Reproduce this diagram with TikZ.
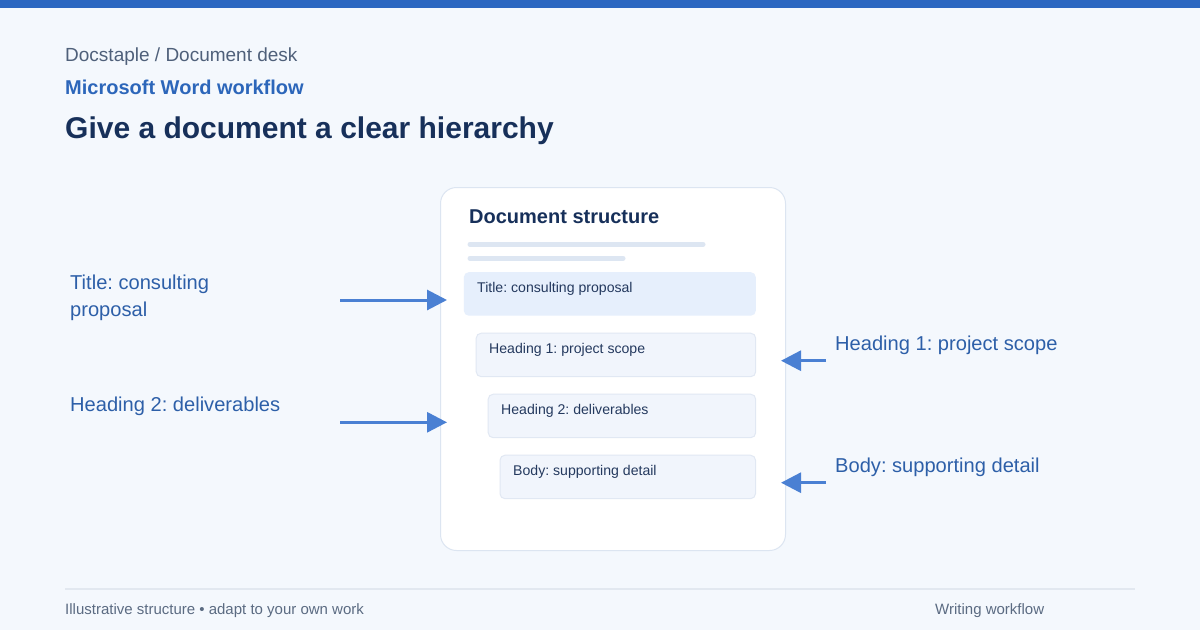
\documentclass[tikz,border=0pt]{standalone}
\usepackage{fontspec}
\setmainfont{Liberation Sans}
\frenchspacing
\usetikzlibrary{arrows.meta}
\definecolor{bgc}{HTML}{F4F8FD}
\definecolor{topbar}{HTML}{2B67C1}
\definecolor{navy}{HTML}{17305A}
\definecolor{subblue}{HTML}{2C66BA}
\definecolor{crumb}{HTML}{4F607A}
\definecolor{lblue}{HTML}{2D5FA8}
\definecolor{arrc}{HTML}{4A80D3}
\definecolor{cardline}{HTML}{DCE5F1}
\definecolor{boxone}{HTML}{E6EFFC}
\definecolor{boxfill}{HTML}{F1F5FC}
\definecolor{boxline}{HTML}{E1E8F3}
\definecolor{barc}{HTML}{DDE6F2}
\definecolor{footline}{HTML}{E2E8F0}
\definecolor{foottext}{HTML}{5B6B82}
\definecolor{boxtextc}{HTML}{24395E}
\tikzset{
  txt/.style={inner sep=0pt, anchor=base west},
  lbl/.style={txt, text=lblue, font=\fontsize{20.1}{24}\selectfont},
  boxtxt/.style={txt, text=boxtextc, font=\fontsize{14.1}{17}\selectfont},
  hbox/.style={draw=boxline, fill=boxfill, line width=1pt, rounded corners=5pt, anchor=north west, inner sep=0pt},
  arr/.style={draw=arrc, line width=3pt, -{Triangle[length=20pt,width=20pt]}},
  bar/.style={draw=barc, line width=5pt, line cap=round}
}
\begin{document}
\begin{tikzpicture}[x=1pt,y=-1pt]
\useasboundingbox (0,0) rectangle (1200,630);
\fill[bgc] (0,0) rectangle (1200,630);
\fill[topbar] (0,0) rectangle (1200,7.5);
% header
\node[txt, text=crumb, font=\fontsize{19}{22}\selectfont] (crumb) at (65,61) {Docstaple / Document desk};
\node[txt, text=subblue, font=\bfseries\fontsize{20}{24}\selectfont] (sub) at (65,94.3) {Microsoft Word workflow};
\node[txt, text=navy, font=\bfseries\fontsize{30}{34}\selectfont] (title) at (65,138.3) {Give a document a clear hierarchy};
% card
\node[draw=cardline, fill=white, line width=1pt, rounded corners=16pt, anchor=north west, minimum width=345pt, minimum height=363pt, inner sep=0pt] (card) at (440,187) {};
\node[txt, text=navy, font=\bfseries\fontsize{20}{24}\selectfont] (cardtitle) at (469,223.3) {Document structure};
\coordinate (l1a) at (470,244.3); \coordinate (l1b) at (703,244.3);
\coordinate (l2a) at (470,258.3); \coordinate (l2b) at (623,258.3);
\draw[bar] (l1a) -- (l1b);
\draw[bar] (l2a) -- (l2b);
% boxes
\node[hbox, draw=none, fill=boxone, minimum width=292pt, minimum height=43.5pt] (b1) at (463.3,271.7) {};
\node[hbox, minimum width=279.5pt, minimum height=43.5pt] (b2) at (475.7,332.7) {};
\node[hbox, minimum width=267.5pt, minimum height=43.5pt] (b3) at (487.7,393.7) {};
\node[hbox, minimum width=255.5pt, minimum height=43.5pt] (b4) at (499.5,454.7) {};
\node[boxtxt] (t1) at (477,292.7) {Title: consulting proposal};
\node[boxtxt] (t2) at (489,353.5) {Heading 1: project scope};
\node[boxtxt] (t3) at (501,414.3) {Heading 2: deliverables};
\node[boxtxt] (t4) at (513,475.3) {Body: supporting detail};
% labels
\node[lbl] (lab1a) at (70,289.5) {Title: consulting};
\node[lbl] (lab1b) at (70,316.5) {proposal};
\node[lbl] (lab3) at (70,411.5) {Heading 2: deliverables};
\node[lbl] (lab2) at (835,350.5) {Heading 1: project scope};
\node[lbl] (lab4) at (835,472.5) {Body: supporting detail};
% arrows
\coordinate (a1s) at (340,300); \coordinate (a1e) at (447,300);
\coordinate (a3s) at (340,422.3); \coordinate (a3e) at (447,422.3);
\coordinate (a2s) at (826,360.7); \coordinate (a2e) at (781,360.7);
\coordinate (a4s) at (826,482.7); \coordinate (a4e) at (781,482.7);
\draw[arr] (a1s) -- (a1e);
\draw[arr] (a3s) -- (a3e);
\draw[arr] (a2s) -- (a2e);
\draw[arr] (a4s) -- (a4e);
% footer
\coordinate (fl1) at (65,589); \coordinate (fl2) at (1135,589);
\draw[footline, line width=2pt] (fl1) -- (fl2);
\node[txt, text=foottext, font=\fontsize{15}{17}\selectfont] (foot1) at (65,614.5) {Illustrative structure • adapt to your own work};
\node[txt, text=foottext, font=\fontsize{15}{17}\selectfont] (foot2) at (935,614.5) {Writing workflow};
\end{tikzpicture}
\end{document}
